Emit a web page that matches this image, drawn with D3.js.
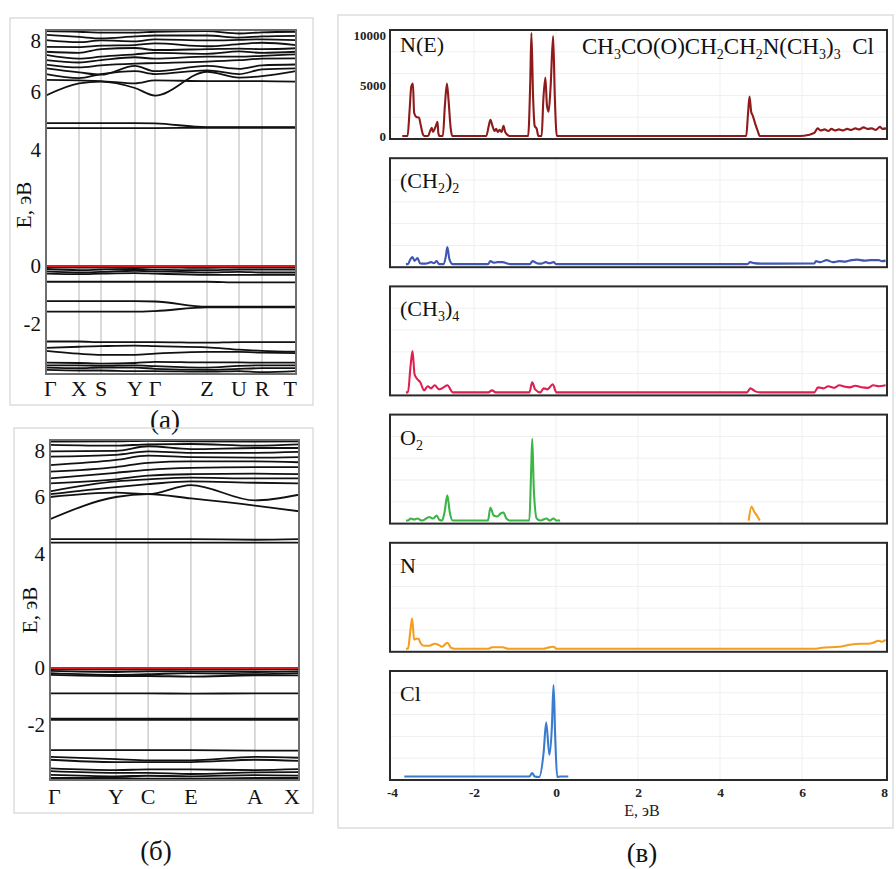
<!DOCTYPE html>
<html>
<head>
<meta charset="utf-8">
<script src="https://cdn.jsdelivr.net/npm/d3@7"></script>
<style>
  body { margin: 0; background: #fff; }
</style>
</head>
<body>
<div id="fig"></div>
<script>
// ---------- band structure (a) ----------
const kLabelsA = ["Γ", "X", "S", "Y", "Γ", "Z", "U", "R", "T"];
const kPathA = [0, 0.132, 0.22, 0.356, 0.436, 0.644, 0.772, 0.864, 1];
const bandsA = [
  [4.76, 4.76, 4.76, 4.76, 4.76, 4.77, 4.77, 4.77, 4.77],
  [4.93, 4.93, 4.93, 4.93, 4.92, 4.79, 4.79, 4.79, 4.79],
  [5.88, 6.30, 6.36, 6.14, 5.88, 6.70, 6.50, 6.55, 6.72],
  [6.42, 6.40, 6.38, 6.30, 6.40, 6.38, 6.38, 6.38, 6.36],
  [6.62, 6.48, 6.62, 6.72, 6.62, 6.75, 6.62, 6.78, 6.82],
  [6.82, 6.68, 6.60, 6.90, 6.72, 6.90, 6.80, 6.92, 6.95],
  [6.95, 6.85, 6.92, 6.98, 7.00, 7.05, 7.10, 7.15, 7.16],
  [7.10, 7.02, 7.10, 7.20, 7.15, 7.22, 7.22, 7.25, 7.30],
  [7.28, 7.15, 7.22, 7.30, 7.35, 7.32, 7.40, 7.35, 7.39],
  [7.39, 7.35, 7.48, 7.52, 7.45, 7.48, 7.50, 7.48, 7.51],
  [7.56, 7.55, 7.60, 7.62, 7.68, 7.58, 7.65, 7.70, 7.62],
  [7.79, 7.72, 7.78, 7.75, 7.82, 7.78, 7.80, 7.82, 7.79],
  [7.97, 7.90, 7.85, 7.92, 7.95, 7.95, 7.88, 7.92, 7.94],
  [8.10, 8.08, 8.05, 8.05, 8.08, 8.10, 8.02, 8.06, 8.08],
  [-0.04, -0.05, -0.05, -0.04, -0.04, -0.06, -0.05, -0.05, -0.05],
  [-0.10, -0.14, -0.12, -0.10, -0.12, -0.14, -0.12, -0.12, -0.12],
  [-0.18, -0.22, -0.20, -0.16, -0.18, -0.22, -0.20, -0.22, -0.22],
  [-0.26, -0.28, -0.26, -0.24, -0.26, -0.30, -0.30, -0.30, -0.30],
  [-0.54, -0.54, -0.54, -0.54, -0.54, -0.54, -0.56, -0.56, -0.56],
  [-1.21, -1.21, -1.21, -1.21, -1.22, -1.40, -1.40, -1.40, -1.40],
  [-1.57, -1.57, -1.57, -1.57, -1.55, -1.42, -1.42, -1.42, -1.42],
  [-2.60, -2.60, -2.62, -2.62, -2.62, -2.64, -2.62, -2.62, -2.62],
  [-2.82, -2.78, -2.76, -2.74, -2.76, -2.80, -2.88, -2.92, -2.95],
  [-2.92, -3.02, -3.06, -3.06, -3.02, -2.96, -2.96, -2.98, -3.00],
  [-3.33, -3.34, -3.36, -3.34, -3.30, -3.32, -3.32, -3.33, -3.33],
  [-3.42, -3.42, -3.44, -3.42, -3.45, -3.50, -3.44, -3.42, -3.42],
  [-3.50, -3.52, -3.50, -3.50, -3.54, -3.58, -3.54, -3.52, -3.52],
  [-3.58, -3.60, -3.60, -3.62, -3.62, -3.64, -3.62, -3.66, -3.62]
];

// ---------- band structure (б) ----------
const kLabelsB = ["Γ", "Y", "C", "E", "A", "X"];
const kPathB = [0, 0.265, 0.394, 0.566, 0.823, 1];
const bandsB = [
  [4.40, 4.40, 4.40, 4.40, 4.40, 4.40],
  [4.52, 4.52, 4.52, 4.52, 4.50, 4.52],
  [5.22, 6.00, 6.10, 5.95, 5.70, 5.50],
  [6.00, 6.15, 6.10, 6.42, 5.88, 6.08],
  [6.10, 6.35, 6.45, 6.55, 6.50, 6.48],
  [6.20, 6.55, 6.62, 6.68, 6.65, 6.65],
  [6.48, 6.62, 6.75, 6.80, 6.82, 6.80],
  [6.65, 6.85, 6.95, 7.02, 7.05, 7.05],
  [6.89, 7.05, 7.20, 7.25, 7.25, 7.22],
  [7.12, 7.30, 7.45, 7.40, 7.38, 7.40],
  [7.42, 7.48, 7.60, 7.55, 7.55, 7.58],
  [7.60, 7.62, 7.78, 7.68, 7.72, 7.72],
  [7.83, 7.80, 7.85, 7.86, 7.80, 7.85],
  [7.94, 7.95, 7.97, 7.95, 7.94, 7.95],
  [-0.05, -0.06, -0.06, -0.05, -0.06, -0.05],
  [-0.10, -0.14, -0.12, -0.12, -0.14, -0.12],
  [-0.18, -0.24, -0.22, -0.18, -0.22, -0.18],
  [-0.24, -0.28, -0.28, -0.30, -0.26, -0.26],
  [-0.89, -0.89, -0.89, -0.90, -0.89, -0.89],
  [-1.78, -1.78, -1.78, -1.78, -1.78, -1.78],
  [-1.82, -1.82, -1.82, -1.82, -1.82, -1.82],
  [-2.88, -2.88, -2.88, -2.88, -2.90, -2.90],
  [-3.12, -3.20, -3.24, -3.24, -3.12, -3.15],
  [-3.22, -3.30, -3.30, -3.30, -3.22, -3.26],
  [-3.52, -3.58, -3.56, -3.56, -3.58, -3.55],
  [-3.62, -3.68, -3.68, -3.72, -3.66, -3.65],
  [-3.75, -3.80, -3.78, -3.80, -3.76, -3.78],
  [-3.86, -3.86, -3.88, -3.88, -3.86, -3.86]
];
const bandTicks = [-2, 0, 4, 6, 8];

// ---------- densities of states (в), [E, N] ----------
const dosTotal = [
  [-3.75, 0], [-3.62, 0], [-3.57, 2600], [-3.53, 4900], [-3.49, 5200], [-3.46, 2300], [-3.41, 1900],
  [-3.34, 1800], [-3.30, 1100], [-3.25, 200], [-3.22, 0], [-3.12, 0], [-3.07, 500], [-3.03, 800],
  [-3.00, 400], [-2.96, 700], [-2.93, 1000], [-2.89, 1400], [-2.87, 300], [-2.84, 0], [-2.76, 0],
  [-2.71, 3000], [-2.66, 5200], [-2.62, 3500], [-2.57, 800], [-2.53, 0], [-1.70, 0], [-1.64, 1000],
  [-1.60, 1600], [-1.55, 1000], [-1.50, 500], [-1.46, 700], [-1.42, 400], [-1.38, 600], [-1.33, 400],
  [-1.28, 1000], [-1.24, 400], [-1.18, 100], [-1.14, 0], [-0.68, 0], [-0.63, 5000], [-0.60, 10200],
  [-0.56, 4000], [-0.52, 1000], [-0.47, 700], [-0.43, 0], [-0.35, 0], [-0.31, 3500], [-0.26, 5800],
  [-0.22, 3000], [-0.18, 2400], [-0.13, 5000], [-0.07, 9900], [-0.03, 4000], [0.02, 0], [4.64, 0],
  [4.68, 2000], [4.72, 3900], [4.76, 2400], [4.80, 2000], [4.86, 1200], [4.92, 500], [4.97, 0],
  [5.95, 0], [6.15, 100], [6.30, 300], [6.38, 750], [6.46, 550], [6.55, 650], [6.64, 500], [6.72, 700],
  [6.80, 550], [6.90, 650], [7.00, 550], [7.10, 700], [7.20, 600], [7.30, 750], [7.40, 650],
  [7.50, 850], [7.60, 700], [7.70, 750], [7.80, 600], [7.90, 900], [7.96, 700], [8.05, 750]
];
const dosCH2 = [
  [-3.66, 0], [-3.61, 0], [-3.55, 500], [-3.50, 700], [-3.45, 330], [-3.38, 600], [-3.31, 70],
  [-3.22, 50], [-3.13, 100], [-3.05, 200], [-2.98, 100], [-2.91, 300], [-2.85, 0], [-2.74, 0],
  [-2.69, 700], [-2.65, 1700], [-2.60, 500], [-2.52, 0], [-1.66, 0], [-1.60, 300], [-1.52, 150],
  [-1.43, 200], [-1.30, 200], [-1.21, 100], [-1.12, 0], [-0.64, 0], [-0.57, 300], [-0.47, 100],
  [-0.36, 50], [-0.25, 200], [-0.16, 100], [-0.06, 200], [0.01, 0], [4.66, 0], [4.74, 200],
  [4.83, 100], [5.00, 50], [6.30, 80], [6.34, 300], [6.45, 200], [6.60, 400], [6.75, 200],
  [6.91, 300], [7.05, 250], [7.21, 400], [7.35, 450], [7.52, 350], [7.68, 400], [7.87, 400],
  [7.95, 300], [8.04, 350]
];
const dosCH3 = [
  [-3.66, 0], [-3.61, 0], [-3.55, 2500], [-3.50, 4100], [-3.45, 1800], [-3.38, 1300], [-3.31, 1000],
  [-3.22, 200], [-3.13, 600], [-3.05, 400], [-2.96, 700], [-2.85, 300], [-2.74, 500], [-2.65, 700],
  [-2.52, 0], [-1.65, 0], [-1.56, 200], [-1.47, 0], [-0.65, 0], [-0.58, 1000], [-0.51, 300],
  [-0.38, 0], [-0.30, 400], [-0.21, 300], [-0.08, 800], [0.01, 0], [4.66, 0], [4.74, 400],
  [4.86, 100], [4.99, 0], [6.30, 0], [6.39, 500], [6.52, 400], [6.64, 600], [6.78, 450], [6.91, 700],
  [7.05, 550], [7.17, 500], [7.30, 650], [7.45, 500], [7.61, 450], [7.74, 700], [7.87, 600], [8.04, 700]
];
const dosO2 = [
  [-3.66, 0], [-3.61, 0], [-3.55, 200], [-3.46, 100], [-3.38, 200], [-3.27, 0], [-3.09, 350],
  [-3.00, 200], [-2.91, 500], [-2.85, 100], [-2.78, 0], [-2.72, 800], [-2.65, 2500], [-2.59, 800],
  [-2.52, 0], [-1.66, 0], [-1.60, 1300], [-1.52, 500], [-1.43, 400], [-1.35, 700], [-1.28, 800],
  [-1.21, 200], [-1.12, 0], [-0.65, 0], [-0.61, 4400], [-0.58, 8100], [-0.54, 3000], [-0.47, 200],
  [-0.38, 0], [-0.23, 200], [-0.16, 0], [-0.06, 200], [0.01, 0], [0.10, 0]
];
const dosO2Orange = [[4.70, 0], [4.77, 1400], [4.83, 900], [4.90, 500], [4.97, 0]];
const dosN = [
  [-3.66, 0], [-3.61, 0], [-3.56, 1500], [-3.51, 3000], [-3.46, 900], [-3.41, 1000], [-3.35, 1000],
  [-3.31, 600], [-3.22, 300], [-3.09, 300], [-2.96, 500], [-2.87, 400], [-2.78, 200], [-2.65, 600],
  [-2.56, 100], [-2.47, 0], [-1.65, 0], [-1.56, 150], [-1.30, 150], [-1.17, 0], [-0.30, 0],
  [-0.21, 100], [-0.06, 200], [0.01, 0], [6.30, 0], [6.48, 100], [6.91, 200], [7.17, 400],
  [7.43, 500], [7.61, 500], [7.74, 600], [7.87, 800], [7.95, 700], [8.04, 900]
];
const dosCl = [
  [-3.70, 50], [-2.00, 50], [-0.65, 50], [-0.58, 400], [-0.52, 50], [-0.41, 0], [-0.30, 2500],
  [-0.24, 5400], [-0.16, 2200], [-0.10, 5000], [-0.06, 9100], [-0.02, 4000], [0.03, 0], [0.10, 50], [0.30, 50]
];
const dosTicksE = [-4, -2, 0, 2, 4, 6, 8];
const dosTicksN = [0, 5000, 10000];

const panelLabels = [
  [["N(E)", 0]],
  [["(CH", 0], ["2", 1], [")", 0], ["2", 1]],
  [["(CH", 0], ["3", 1], [")", 0], ["4", 1]],
  [["O", 0], ["2", 1]],
  [["N", 0]],
  [["Cl", 0]]
];
const formula = [["CH", 0], ["3", 1], ["CO(O)CH", 0], ["2", 1], ["CH", 0], ["2", 1], ["N(CH", 0],
  ["3", 1], [")", 0], ["3", 1], ["  Cl", 0]];

const panelSeries = [
  [[dosTotal, "#8e1b1b"]],
  [[dosCH2, "#3f57b3"]],
  [[dosCH3, "#de1f4f"]],
  [[dosO2, "#3db546"], [dosO2Orange, "#f59d1d"]],
  [[dosN, "#f59d1d"]],
  [[dosCl, "#3a7bcc"]]
];

const serif = '"Liberation Serif", "DejaVu Serif", serif';

const svg = d3.select("#fig").append("svg")
  .attr("width", 896)
  .attr("height", 869)
  .style("background", "#fff");

function outerBox(x0, y0, x1, y1) {
  svg.append("rect")
    .attr("x", x0).attr("y", y0)
    .attr("width", x1 - x0).attr("height", y1 - y0)
    .attr("fill", "none").attr("stroke", "#d4d4d4").attr("stroke-width", 1.2);
}

function richText(sel, parts, size, subSize) {
  let down = false;
  parts.forEach(function(p) {
    const t = sel.append("tspan").text(p[0]);
    if (p[1] && !down) { t.attr("dy", 5).attr("font-size", subSize); down = true; }
    else if (p[1]) { t.attr("font-size", subSize); }
    else if (down) { t.attr("dy", -5).attr("font-size", size); down = false; }
    else { t.attr("font-size", size); }
  });
}

// ---------- band structure panels ----------
function drawBands(o) {
  outerBox(o.box[0], o.box[1], o.box[2], o.box[3]);

  const x = d3.scaleLinear().domain([0, 1]).range([o.left, o.right]);
  const y = d3.scaleLinear().domain(o.eRange).range([o.bottom, o.top]);

  svg.append("clipPath").attr("id", "clip" + o.id)
    .append("rect")
    .attr("x", o.left).attr("y", o.top)
    .attr("width", o.right - o.left).attr("height", o.bottom - o.top);

  const g = svg.append("g").attr("clip-path", "url(#clip" + o.id + ")");

  g.selectAll(".kline")
    .data(o.kPath.slice(1, -1))
    .enter().append("line")
      .attr("x1", d => x(d)).attr("x2", d => x(d))
      .attr("y1", o.top).attr("y2", o.bottom)
      .attr("stroke", "#c6c6c6").attr("stroke-width", 1.3);

  const line = d3.line()
    .x((d, i) => x(o.kPath[i]))
    .y(d => y(d))
    .curve(d3.curveMonotoneX);

  g.selectAll(".band")
    .data(o.bands)
    .enter().append("path")
      .attr("d", line)
      .attr("fill", "none")
      .attr("stroke", "#111")
      .attr("stroke-width", 1.8);

  g.append("line")
    .attr("x1", o.left).attr("x2", o.right)
    .attr("y1", y(0)).attr("y2", y(0))
    .attr("stroke", "#e3161b").attr("stroke-width", 2);

  svg.append("rect")
    .attr("x", o.left).attr("y", o.top)
    .attr("width", o.right - o.left).attr("height", o.bottom - o.top)
    .attr("fill", "none").attr("stroke", "#6e6e6e").attr("stroke-width", 2);

  const ax = svg.append("g")
    .attr("transform", "translate(" + o.left + ",0)")
    .call(d3.axisLeft(y).tickValues(bandTicks).tickSize(0).tickPadding(5).tickFormat(d => String(d)));
  ax.select(".domain").remove();
  ax.selectAll("text")
    .attr("font-family", serif).attr("font-size", 21).attr("fill", "#111");
  ax.selectAll(".tick text").filter(d => d === 8).attr("dy", o.topTickDy);

  const n = o.kLabels.length;
  svg.selectAll(null)
    .data(o.kLabels)
    .enter().append("text")
      .attr("x", (d, i) => i === 0 ? o.left - 2 : (i === n - 1 ? o.right + 1 : x(o.kPath[i])))
      .attr("y", o.kY)
      .attr("text-anchor", (d, i) => i === 0 ? "start" : (i === n - 1 ? "end" : "middle"))
      .attr("font-family", serif).attr("font-size", 22).attr("fill", "#111")
      .text(d => d);

  svg.append("text")
    .attr("transform", "translate(" + o.yLab[0] + "," + o.yLab[1] + ") rotate(-90)")
    .attr("text-anchor", "middle")
    .attr("font-family", serif).attr("font-size", 21).attr("fill", "#111")
    .text("E, эВ");

  svg.append("text")
    .attr("x", o.cap[0]).attr("y", o.cap[1])
    .attr("text-anchor", "middle")
    .attr("font-family", serif).attr("font-size", 27).attr("fill", "#111")
    .text(o.caption);
}

drawBands({
  id: "a", box: [10, 18, 313, 405],
  left: 46, right: 296, top: 30, bottom: 374, eRange: [-3.72, 8.14],
  kPath: kPathA, kLabels: kLabelsA, bands: bandsA, kY: 396, topTickDy: "0.62em",
  yLab: [31, 205], cap: [165, 429], caption: "(a)"
});

drawBands({
  id: "b", box: [14, 428, 313, 813],
  left: 50, right: 299, top: 440, bottom: 780, eRange: [-3.93, 8.0],
  kPath: kPathB, kLabels: kLabelsB, bands: bandsB, kY: 804, topTickDy: "0.82em",
  yLab: [37, 610], cap: [156, 860], caption: "(б)"
});

// ---------- DOS panels ----------
outerBox(338, 15, 893, 828);

const fx0 = 390, fx1 = 887, pTop0 = 30, pStep = 128.2, pH = 109;
const xE = d3.scaleLinear().domain([-4, 8]).range([392, 884]);

panelSeries.forEach(function(series, i) {
  const top = pTop0 + i * pStep, bottom = top + pH;
  const yN = d3.scaleLinear().domain([-300, 10500]).range([bottom, top]);
  const g = svg.append("g");

  // faint grid
  g.selectAll(".vg").data([-2, 0, 2, 4, 6]).enter().append("line")
    .attr("x1", d => xE(d)).attr("x2", d => xE(d))
    .attr("y1", top).attr("y2", bottom)
    .attr("stroke", "#efefef").attr("stroke-width", 1);
  g.selectAll(".hg").data([1, 2, 3, 4]).enter().append("line")
    .attr("x1", fx0).attr("x2", fx1)
    .attr("y1", d => bottom - d * pH / 5).attr("y2", d => bottom - d * pH / 5)
    .attr("stroke", "#efefef").attr("stroke-width", 1);

  svg.append("clipPath").attr("id", "dclip" + i)
    .append("rect").attr("x", fx0).attr("y", top).attr("width", fx1 - fx0).attr("height", pH);

  const line = d3.line()
    .x(d => xE(d[0]))
    .y(d => yN(d[1]))
    .curve(d3.curveMonotoneX);

  series.forEach(function(s) {
    g.append("path")
      .datum(s[0])
      .attr("clip-path", "url(#dclip" + i + ")")
      .attr("d", line)
      .attr("fill", "none")
      .attr("stroke", s[1])
      .attr("stroke-width", 2.1)
      .attr("stroke-linejoin", "round");
  });

  g.append("rect")
    .attr("x", fx0).attr("y", top)
    .attr("width", fx1 - fx0).attr("height", pH)
    .attr("fill", "none").attr("stroke", "#2a2a2a").attr("stroke-width", 2);

  const lab = svg.append("text")
    .attr("x", 400).attr("y", top + (i === 0 ? 22 : 30))
    .attr("font-family", serif).attr("fill", "#111");
  richText(lab, panelLabels[i], 22, 14);

  if (i === 0) {
    const ax = svg.append("g")
      .attr("transform", "translate(" + fx0 + ",0)")
      .call(d3.axisLeft(yN).tickValues(dosTicksN).tickSize(0).tickPadding(4).tickFormat(d => String(d)));
    ax.select(".domain").remove();
    ax.selectAll("text").attr("font-family", serif).attr("font-size", 13)
      .attr("font-weight", "bold").attr("fill", "#222");

    const f = svg.append("text")
      .attr("x", 582).attr("y", top + 24)
      .attr("font-family", serif).attr("fill", "#111")
      .style("white-space", "pre");
    richText(f, formula, 23, 14);
  }

  if (i === panelSeries.length - 1) {
    const ax = svg.append("g")
      .attr("transform", "translate(0," + bottom + ")")
      .call(d3.axisBottom(xE).tickValues(dosTicksE).tickSize(0).tickPadding(7).tickFormat(d => String(d)));
    ax.select(".domain").remove();
    ax.selectAll("text").attr("font-family", serif).attr("font-size", 13.5)
      .attr("font-weight", "bold").attr("fill", "#222");

    svg.append("text")
      .attr("x", 642).attr("y", bottom + 36)
      .attr("text-anchor", "middle")
      .attr("font-family", serif).attr("font-size", 16).attr("fill", "#222")
      .text("E, эВ");
  }
});

svg.append("text")
  .attr("x", 642).attr("y", 862)
  .attr("text-anchor", "middle")
  .attr("font-family", serif).attr("font-size", 27).attr("fill", "#111")
  .text("(в)");
</script>
</body>
</html>
